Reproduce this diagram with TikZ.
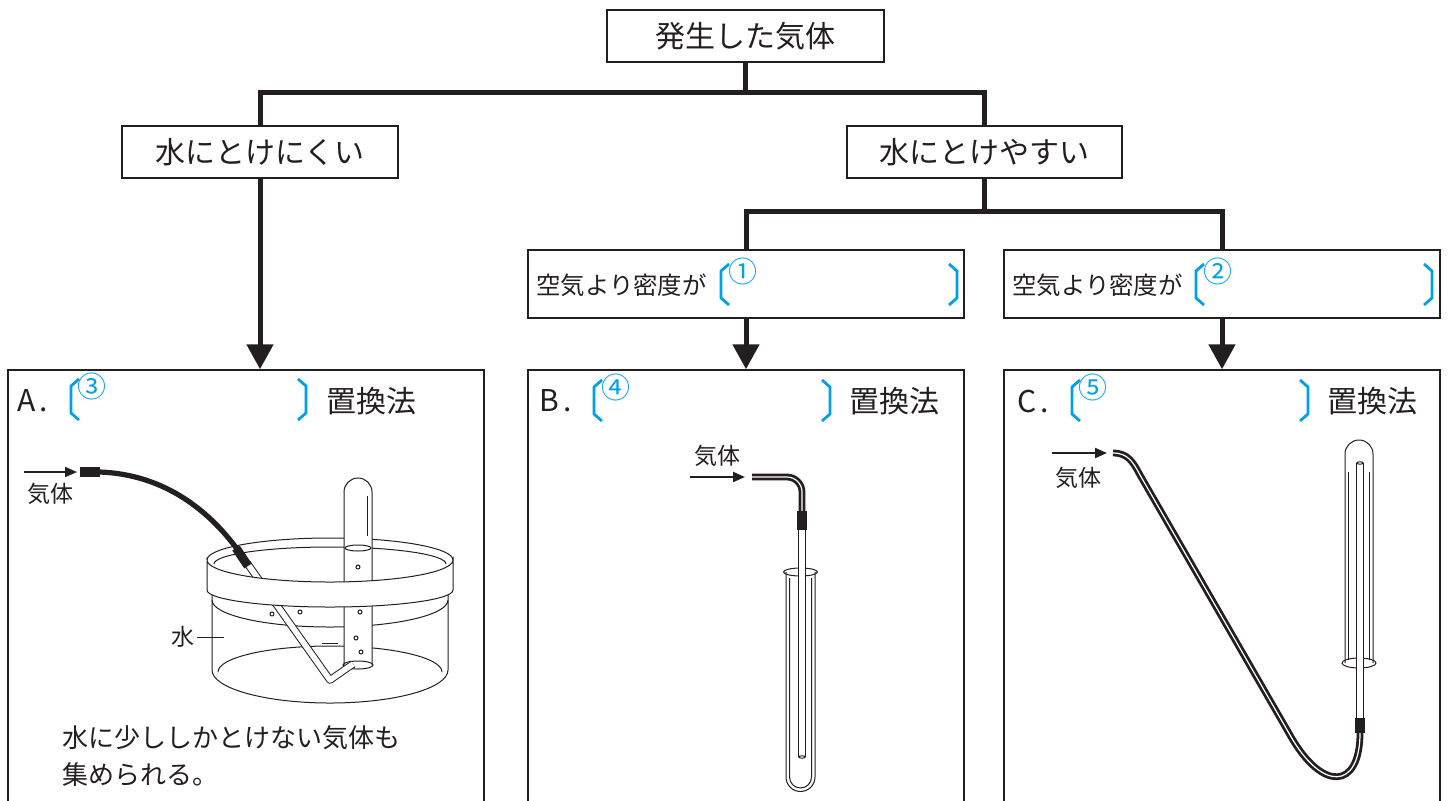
\documentclass[tikz,border=0pt]{standalone}
\usepackage{fontspec}
\setmainfont{Noto Sans CJK JP}
\usetikzlibrary{arrows.meta}
\usetikzlibrary{positioning}

\definecolor{ink}{RGB}{35,31,32}
\definecolor{bracketcyan}{RGB}{0,160,233}

\tikzset{
  box/.style={rectangle, draw=ink, line width=0.75pt, fill=white, inner sep=0pt},
  bigtext/.style={text=ink, inner sep=0pt, font={\fontsize{15pt}{18pt}\selectfont}},
  midtext/.style={text=ink, inner sep=0pt, font={\fontsize{12.2pt}{15pt}\selectfont}},
  bodytext/.style={text=ink, inner sep=0pt, font={\fontsize{13pt}{16pt}\selectfont}},
  smalltext/.style={text=ink, inner sep=0pt, font={\fontsize{11.5pt}{14pt}\selectfont}},
  numtext/.style={text=bracketcyan, inner sep=0pt, font={\fontsize{14.5pt}{16pt}\selectfont}},
  conn/.style={draw=ink, line width=2.5pt},
  bigarrow/.style={conn, -{Triangle[width=13pt,length=12.5pt]}},
  gasarrow/.style={draw=ink, line width=1pt, -{Triangle[width=5pt,length=6pt]}},
  bracket/.style={draw=bracketcyan, line width=1.4pt, line join=miter},
  drawing/.style={draw=ink, line width=0.5pt},
  glass/.style={draw=ink, line width=0.5pt, double=white, double distance=2.8pt, line join=round},
  hose/.style={draw=ink, line width=1.4pt, double=white, double distance=0.6pt},
  rubber/.style={draw=ink, line width=2.6pt},
}

\begin{document}
\begin{tikzpicture}[x=0.5pt,y=-0.5pt]
        \useasboundingbox (0,0) rectangle (1451,800);

        % flow chart boxes
        \node[box, bigtext, minimum width=138.5pt, minimum height=26pt] (gas) at (745.5,36) {発生した気体};
        \node[box, bigtext, minimum width=138pt, minimum height=26pt] (hard) at (260,152) {水にとけにくい};
        \node[box, bigtext, minimum width=137.5pt, minimum height=26pt] (easy) at (984.5,152) {水にとけやすい};
        \node[box, minimum width=218pt, minimum height=34pt] (dens1) at (746,284) {};
        \node[box, minimum width=218pt, minimum height=34pt] (dens2) at (1222,284) {};
        \node[midtext, anchor=west] (dens1txt) at (536,285) {空気より密度が};
        \node[midtext, anchor=west] (dens2txt) at (1012,285) {空気より密度が};

        % panels
        \node[box, minimum width=238pt, minimum height=220pt] (panA) at (246,590) {};
        \node[box, minimum width=218pt, minimum height=220pt] (panB) at (746,590) {};
        \node[box, minimum width=218pt, minimum height=220pt] (panC) at (1222,590) {};

        % connectors
        \draw[conn] (hard.north) |- ([yshift=-15pt]gas.south) -- (gas.south);
        \draw[conn] (easy.north) |- ([yshift=-15pt]gas.south);
        \draw[conn] (dens1.north) |- ([yshift=-16.5pt]easy.south) -- (easy.south);
        \draw[conn] (dens2.north) |- ([yshift=-16.5pt]easy.south);
        \draw[bigarrow] (hard.south) -- (hard.south |- panA.north);
        \draw[bigarrow] (dens1.south) -- (dens1.south |- panB.north);
        \draw[bigarrow] (dens2.south) -- (dens2.south |- panC.north);

        % answer brackets
        \foreach \xl/\xr/\yt in {721/957/264, 1196/1432/264, 71/306/379, 594/830/380, 1072/1308/380} {
            \draw[bracket] (\xl+8,\yt) -- (\xl,\yt+7) -- (\xl,\yt+34) -- (\xl+8,\yt+41);
            \draw[bracket] (\xr-8,\yt) -- (\xr,\yt+7) -- (\xr,\yt+34) -- (\xr-8,\yt+41);
        }
        \node[numtext] (n1) at (743,271) {①};
        \node[numtext] (n2) at (1218,271) {②};
        \node[numtext] (n3) at (92,386) {③};
        \node[numtext] (n4) at (616,387) {④};
        \node[numtext] (n5) at (1093,387) {⑤};

        % panel titles
        \node[bigtext, anchor=west] (labA) at (17,401) {A\hspace{2pt}.};
        \node[bigtext, anchor=west] (labB) at (539,401) {B\hspace{2pt}.};
        \node[bigtext, anchor=west] (labC) at (1017,401) {C\hspace{2pt}.};
        \node[bigtext] (methA) at (371,401) {置換法};
        \node[bigtext] (methB) at (894,401) {置換法};
        \node[bigtext] (methC) at (1372,401) {置換法};

        % A: basin
        \draw[gasarrow] (24,472) -- (77,472);
        \node[smalltext] (gasA) at (50,494) {気体};
        \draw[drawing] (218,672) arc[start angle=180, end angle=360, x radius=112, y radius=26];
        \draw[drawing] (212,593) -- (212,670) arc[start angle=180, end angle=0, x radius=118, y radius=33] -- (448,593);
        \draw[drawing] (212,600) arc[start angle=180, end angle=0, x radius=118, y radius=27];
        \draw[drawing] (322,643) -- (338,643);
        \draw[drawing] (207,560) arc[start angle=180, end angle=360, x radius=123, y radius=22];
        \draw[drawing] (214,564) arc[start angle=180, end angle=360, x radius=116, y radius=17];
        \draw[drawing, fill=white] (344,665) -- (344,492) arc[start angle=180, end angle=360, radius=14] -- (372,665);
        \draw[drawing] (358,665) ellipse[x radius=15, y radius=4];
        \draw[drawing] (358,548) ellipse[x radius=13, y radius=3];
        \draw[drawing] (367,496) -- (367,536);
        \foreach \bx/\by in {358/567, 360/612, 356/638, 361/652}
            \draw[drawing] (\bx,\by) circle[radius=2];
        \draw[glass] (247,563) -- (330,680) -- (353,664);
        \draw[drawing] (272,614) circle[radius=2];
        \draw[drawing] (300,612) circle[radius=2];
        \draw[rubber] (99,472) .. controls (165,474) and (212,512) .. (242,556);
        \draw[line width=5pt, ink] (80,472) -- (100,472);
        \draw[line width=4.5pt, ink] (236,548) -- (248,566);
        \draw[drawing, fill=white] (207,560) arc[start angle=180, end angle=0, x radius=123, y radius=22] -- (453,590) arc[start angle=0, end angle=180, x radius=123, y radius=17] -- cycle;
        \node[smalltext] (water) at (183,637) {水};
        \draw[drawing] (water.east) ++(2,0) -- (224,637);
        \node[bodytext, anchor=west] (noteA1) at (62,738) {水に少ししかとけない気体も};
        \node[bodytext, anchor=west] (noteA2) at (62,775) {集められる。};

        % B: test tube upright
        \draw[gasarrow] (690,477) -- (745,477);
        \node[smalltext] (gasB) at (717,456) {気体};
        \draw[drawing] (786,572) -- (786,777) arc[start angle=180, end angle=0, radius=14.5] -- (815,572);
        \draw[drawing] (789.5,578) -- (789.5,777) arc[start angle=180, end angle=0, radius=11] -- (811.5,578);
        \draw[drawing] (800.5,572) ellipse[x radius=17, y radius=4];
        \draw[glass] (802,530) -- (802,757);
        \draw[drawing, fill=white] (802,757) ellipse[x radius=3.2, y radius=1.2];
        \draw[hose] (752,477) -- (787,477) arc[start angle=270, end angle=360, radius=15] -- (802,512);
        \fill[ink] (797,511) rectangle (807,530);

        % C: test tube inverted
        \draw[gasarrow] (1052,453) -- (1107,453);
        \node[smalltext] (gasC) at (1078,478) {気体};
        \draw[drawing] (1345,663) -- (1345,454) arc[start angle=180, end angle=360, radius=14] -- (1373,663);
        \draw[drawing] (1348.5,660) -- (1348.5,472);
        \draw[drawing] (1369.5,660) -- (1369.5,472);
        \draw[drawing] (1359,663) ellipse[x radius=17, y radius=5];
        \draw[glass] (1360,720) -- (1360,463);
        \draw[drawing, fill=white] (1360,463) ellipse[x radius=3.2, y radius=1.2];
        \draw[hose] (1113,453) .. controls (1128,453) and (1133,462) .. (1140,475) -- (1290,735) .. controls (1322,792) and (1360,790) .. (1360,733);
        \fill[ink] (1355,718) rectangle (1365,733);

\end{tikzpicture}
\end{document}
